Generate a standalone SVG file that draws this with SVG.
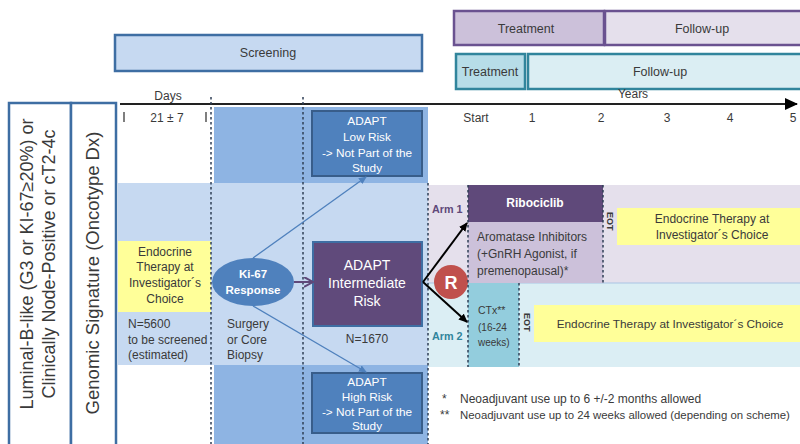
<svg xmlns="http://www.w3.org/2000/svg" width="800" height="444" viewBox="0 0 800 444">
<defs>
<style>
text{font-family:"Liberation Sans",Arial,sans-serif;fill:#3a3a3a;font-size:12px}
.c{text-anchor:middle}
.w{fill:#ffffff}
.b{font-weight:bold}
.dash{stroke:#2f3f55;stroke-width:1.5;stroke-dasharray:2.5,2.5;fill:none}
.blue{fill:#4f81bd;stroke:#385d8a;stroke-width:2}
.yel{fill:#ffff99}
.hdr{stroke-width:2.5}
.h{font-size:12.5px}
.ad{font-size:11.8px}
</style>
<marker id="ak" markerWidth="10" markerHeight="10" refX="8" refY="4" orient="auto" markerUnits="userSpaceOnUse"><path d="M0,0 L9,4 L0,8 Z" fill="#000"/></marker>
<marker id="ab" markerWidth="10" markerHeight="10" refX="7" refY="3.5" orient="auto" markerUnits="userSpaceOnUse"><path d="M0,0 L8,3.5 L0,7 Z" fill="#4f81bd"/></marker>
<marker id="ap" markerWidth="12" markerHeight="12" refX="8" refY="5" orient="auto" markerUnits="userSpaceOnUse"><path d="M0,0 L9,5 L0,10" fill="none" stroke="#5f497a" stroke-width="2"/></marker>
<marker id="ax" markerWidth="14" markerHeight="14" refX="12" refY="6" orient="auto" markerUnits="userSpaceOnUse"><path d="M0,0 L13,6 L0,12 Z" fill="#000"/></marker>
</defs>

<!-- background zones -->
<g id="zones">
<rect x="214" y="107" width="214" height="337" fill="#8eb4e3"/>
<rect x="118" y="183" width="310" height="182" fill="#c6d9f1"/>
<rect x="428" y="185" width="372" height="98" fill="#e5e0ec"/>
<rect x="428" y="283" width="372" height="84" fill="#dbeef4"/>
<line x1="428" y1="283" x2="800" y2="283" stroke="#a9c4e4" stroke-width="1"/>
</g>

<!-- header boxes -->
<g id="screening">
<rect x="115" y="35" width="307" height="36" fill="#c6d9f1" stroke="#3e6ea3" class="hdr"/>
<text x="268" y="57" class="c h">Screening</text>
</g>
<g id="treatment-arm1">
<rect x="454" y="11" width="150" height="34" fill="#ccc1da" stroke="#6a5290" class="hdr"/>
<text x="526" y="33" class="c h">Treatment</text>
</g>
<g id="followup-arm1">
<rect x="605" y="11" width="200" height="34" fill="#e5e0ec" stroke="#6a5290" class="hdr"/>
<text x="702" y="33" class="c h">Follow-up</text>
</g>
<g id="treatment-arm2">
<rect x="456" y="54" width="69" height="35" fill="#b7dde8" stroke="#31859c" class="hdr"/>
<text x="490" y="76" class="c h">Treatment</text>
</g>
<g id="followup-arm2">
<rect x="528" y="54" width="277" height="35" fill="#dbeef3" stroke="#31859c" class="hdr"/>
<text x="660" y="76" class="c h">Follow-up</text>
</g>

<!-- timeline -->
<g id="timeline">
<text x="168" y="100" class="c">Days</text>
<text x="633" y="98" class="c">Years</text>
<line x1="124" y1="112" x2="124" y2="122" stroke="#3a3a3a" stroke-width="1.3"/>
<text x="167" y="122" class="c">21 ± 7</text>
<line x1="206" y1="112" x2="206" y2="122" stroke="#3a3a3a" stroke-width="1.3"/>
<text x="476" y="122" class="c">Start</text>
<text x="532" y="122" class="c">1</text>
<text x="601" y="122" class="c">2</text>
<text x="667" y="122" class="c">3</text>
<text x="730" y="122" class="c">4</text>
<text x="793" y="122" class="c">5</text>
</g>

<!-- left labels -->
<g id="population">
<rect x="9" y="103" width="62" height="345" fill="#fff" stroke="#3e6ea3" stroke-width="2.5"/>
<text transform="translate(33,264) rotate(-90)" class="c" style="font-size:18px">Luminal-B-like (G3 or KI-67≥20%) or</text>
<text transform="translate(55,264) rotate(-90)" class="c" style="font-size:18px">Clinically Node-Positive or cT2-4c</text>
</g>
<g id="genomic">
<rect x="71" y="103" width="45" height="345" fill="#fff" stroke="#3e6ea3" stroke-width="2.5"/>
<text transform="translate(99,273) rotate(-90)" class="c" style="font-size:18.5px">Genomic Signature (Oncotype Dx)</text>
</g>

<!-- screening column -->
<g id="endocrine-screening">
<rect x="118" y="241" width="93" height="71" class="yel"/>
<text x="165" y="256" class="c">Endocrine</text>
<text x="165" y="271" class="c">Therapy at</text>
<text x="165" y="287" class="c">Investigator´s</text>
<text x="165" y="303" class="c">Choice</text>
</g>
<g id="n5600">
<text x="128" y="328">N=5600</text>
<text x="128" y="344">to be screened</text>
<text x="128" y="359">(estimated)</text>
</g>
<g id="surgery">
<text x="227" y="328">Surgery</text>
<text x="227" y="344">or Core</text>
<text x="227" y="359">Biopsy</text>
</g>

<g id="ki67">
<ellipse cx="253" cy="282" rx="41" ry="24" fill="#4f81bd"/>
<text x="253" y="278" class="c w b" style="font-size:11.5px">Ki-67</text>
<text x="253" y="294" class="c w b" style="font-size:11.5px">Response</text>
</g>

<g id="adapt-low">
<rect x="312" y="111" width="110" height="65" class="blue"/>
<text x="367" y="125" class="c w ad">ADAPT</text>
<text x="367" y="141" class="c w ad">Low Risk</text>
<text x="367" y="157" class="c w ad">-&gt; Not Part of the</text>
<text x="367" y="172" class="c w ad">Study</text>
</g>
<g id="adapt-intermediate">
<rect x="313" y="242" width="109" height="84" fill="#604a7b" stroke="#3e6ea3" stroke-width="2"/>
<text x="367" y="270" class="c w" style="font-size:14px">ADAPT</text>
<text x="367" y="288" class="c w" style="font-size:14px">Intermediate</text>
<text x="367" y="306" class="c w" style="font-size:14px">Risk</text>
</g>
<g id="n1670"><text x="367" y="343" class="c">N=1670</text></g>
<g id="adapt-high">
<rect x="312" y="373" width="110" height="60" class="blue"/>
<text x="367" y="386" class="c w ad">ADAPT</text>
<text x="367" y="401" class="c w ad">High Risk</text>
<text x="367" y="416" class="c w ad">-&gt; Not Part of the</text>
<text x="367" y="430" class="c w ad">Study</text>
</g>

<!-- arms -->
<g id="ribociclib">
<rect x="468" y="185" width="135" height="37" fill="#5f497a"/>
<text x="535" y="207" class="c w b">Ribociclib</text>
</g>
<g id="aromatase">
<rect x="468" y="222" width="135" height="61" fill="#ccc1da"/>
<text x="477" y="241">Aromatase Inhibitors</text>
<text x="477" y="258">(+GnRH Agonist, if</text>
<text x="477" y="275">premenopausal)*</text>
</g>
<g id="eot1"><text transform="translate(607,212) rotate(90)" class="b" style="font-size:9px">EOT</text></g>
<g id="endocrine-arm1">
<rect x="617" y="208" width="183" height="37" class="yel"/>
<text x="712" y="223" class="c">Endocrine Therapy at</text>
<text x="712" y="239" class="c">Investigator´s Choice</text>
</g>

<g id="ctx">
<rect x="468" y="283" width="51" height="84" fill="#93cddd"/>
<text x="478" y="314" style="font-size:10.5px">CTx**</text>
<text x="478" y="331" style="font-size:10px">(16-24</text>
<text x="478" y="346" style="font-size:10px">weeks)</text>
</g>
<g id="eot2"><text transform="translate(524,313) rotate(90)" class="b" style="font-size:9px">EOT</text></g>
<g id="endocrine-arm2">
<rect x="534" y="305" width="266" height="37" class="yel"/>
<text x="670" y="328" class="c" style="font-size:11.8px">Endocrine Therapy at Investigator´s Choice</text>
</g>

<g id="randomization">
<circle cx="451" cy="282" r="17" fill="#c0504d"/>
<text x="451" y="289" class="c w b" style="font-size:18px">R</text>
</g>

<g id="arm1">
<text x="432" y="213" class="b" style="fill:#5f497a;font-size:10.8px">Arm 1</text>
</g>
<g id="arm2">
<text x="432" y="340" class="b" style="fill:#31859c;font-size:10.8px">Arm 2</text>
</g>

<g id="footnotes">
<text x="442" y="403">*</text>
<text x="460" y="403">Neoadjuvant use up to 6 +/-2 months allowed</text>
<text x="440" y="419">**</text>
<text x="460" y="419" style="font-size:11.4px">Neoadjuvant use up to 24 weeks allowed (depending on scheme)</text>
</g>

<!-- connectors -->
<g id="connectors">
<line x1="120" y1="104" x2="797" y2="104" stroke="#222" stroke-width="2" marker-end="url(#ax)"/>
<line x1="211" y1="97" x2="211" y2="444" class="dash"/>
<line x1="303" y1="97" x2="303" y2="444" class="dash"/>
<line x1="428" y1="183" x2="428" y2="444" class="dash"/>
<line x1="468" y1="185" x2="468" y2="367" class="dash"/>
<line x1="603" y1="185" x2="603" y2="283" class="dash"/>
<line x1="519" y1="283" x2="519" y2="367" class="dash"/>
<line x1="253" y1="258" x2="366" y2="177" stroke="#4f81bd" stroke-width="1.3" marker-end="url(#ab)"/>
<line x1="253" y1="306" x2="366" y2="372" stroke="#4f81bd" stroke-width="1.3" marker-end="url(#ab)"/>
<line x1="294" y1="282" x2="312" y2="282" stroke="#5f497a" stroke-width="2" marker-end="url(#ap)"/>
<line x1="423" y1="282" x2="467" y2="223" stroke="#000" stroke-width="2" marker-end="url(#ak)"/>
<line x1="423" y1="282" x2="467" y2="322" stroke="#000" stroke-width="2" marker-end="url(#ak)"/>
</g>
</svg>
